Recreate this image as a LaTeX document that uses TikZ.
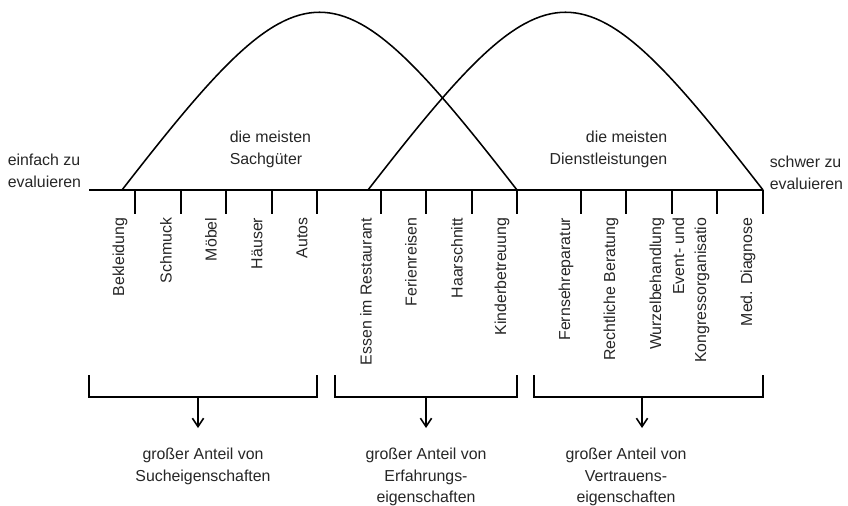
\documentclass[tikz,border=0pt]{standalone}
\usepackage{fontspec}
\setmainfont{Liberation Sans}
\usetikzlibrary{arrows.meta}

\begin{document}
\begin{tikzpicture}[
    x=0.025cm, y=-0.025cm,
    line width=1.1pt,
    txt/.style={inner sep=0pt, font=\fontsize{11.3}{15.5}\selectfont, text=black!85},
    item/.style={txt, rotate=90, anchor=east, align=right},
    arrow/.style={-{Straight Barb[length=6pt,width=8pt]}}
]
    \useasboundingbox (0,0) rectangle (848,506);

    % Axis
    \coordinate (easyend) at (89,190);
    \coordinate (hardend) at (763,190);
    \draw (easyend) -- (hardend);

    % Curves
    \draw (122,190) .. controls (306,-47) and (333,-47) .. (517,190);
    \draw (368,190) .. controls (552,-47) and (579,-47) .. (763,190);

    % Ticks
    \foreach \x in {135,181,226,272,317,381,426,472,517,581,626,672,717,763}
        \draw (\x,190) -- (\x,214);

    % Items
    \foreach \x/\lab [count=\i] in {120/Bekleidung, 166/Schmuck, 211/Möbel,
        257/Häuser, 302/Autos, 366/Essen im Restaurant, 411/Ferienreisen,
        457/Haarschnitt, 502/Kinderbetreuung, 566/Fernsehreparatur,
        611/Rechtliche Beratung, 657/Wurzelbehandlung,
        691/{Event- und\\Kongressorganisatio}, 748/Med. Diagnose}
        \node[item] (item\i) at (\x,217) {\lab};

    % Labels
    \node[txt, anchor=north west, align=left] (easy) at (7,153) {einfach zu\\evaluieren};
    \node[txt, anchor=north west, align=left] (hard) at (769,155) {schwer zu\\evaluieren};
    \node[txt, anchor=north west, align=left] (goods) at (229,130) {die meisten\\Sachgüter};
    \node[txt, anchor=north east, align=right] (services) at (668,130) {die meisten\\Dienstleistungen};

    % Brackets
    \draw (89,375) -- (89,397) -- (317,397) -- (317,375);
    \draw (335,375) -- (335,397) -- (517,397) -- (517,375);
    \draw (534,375) -- (534,397) -- (763,397) -- (763,375);

    % Results
    \node[txt, anchor=north, align=center] (search) at (203,447) {großer Anteil von\\Sucheigenschaften};
    \node[txt, anchor=north, align=center] (experience) at (426,447) {großer Anteil von\\Erfahrungs-\\eigenschaften};
    \node[txt, anchor=north, align=center] (trust) at (626,447) {großer Anteil von\\Vertrauens-\\eigenschaften};

    \coordinate (searchtop) at (198,397);
    \coordinate (searchtip) at (198,428);
    \coordinate (experiencetop) at (426,397);
    \coordinate (experiencetip) at (426,428);
    \coordinate (trusttop) at (642,397);
    \coordinate (trusttip) at (642,428);
    \draw[arrow] (searchtop) -- (searchtip);
    \draw[arrow] (experiencetop) -- (experiencetip);
    \draw[arrow] (trusttop) -- (trusttip);
\end{tikzpicture}
\end{document}
